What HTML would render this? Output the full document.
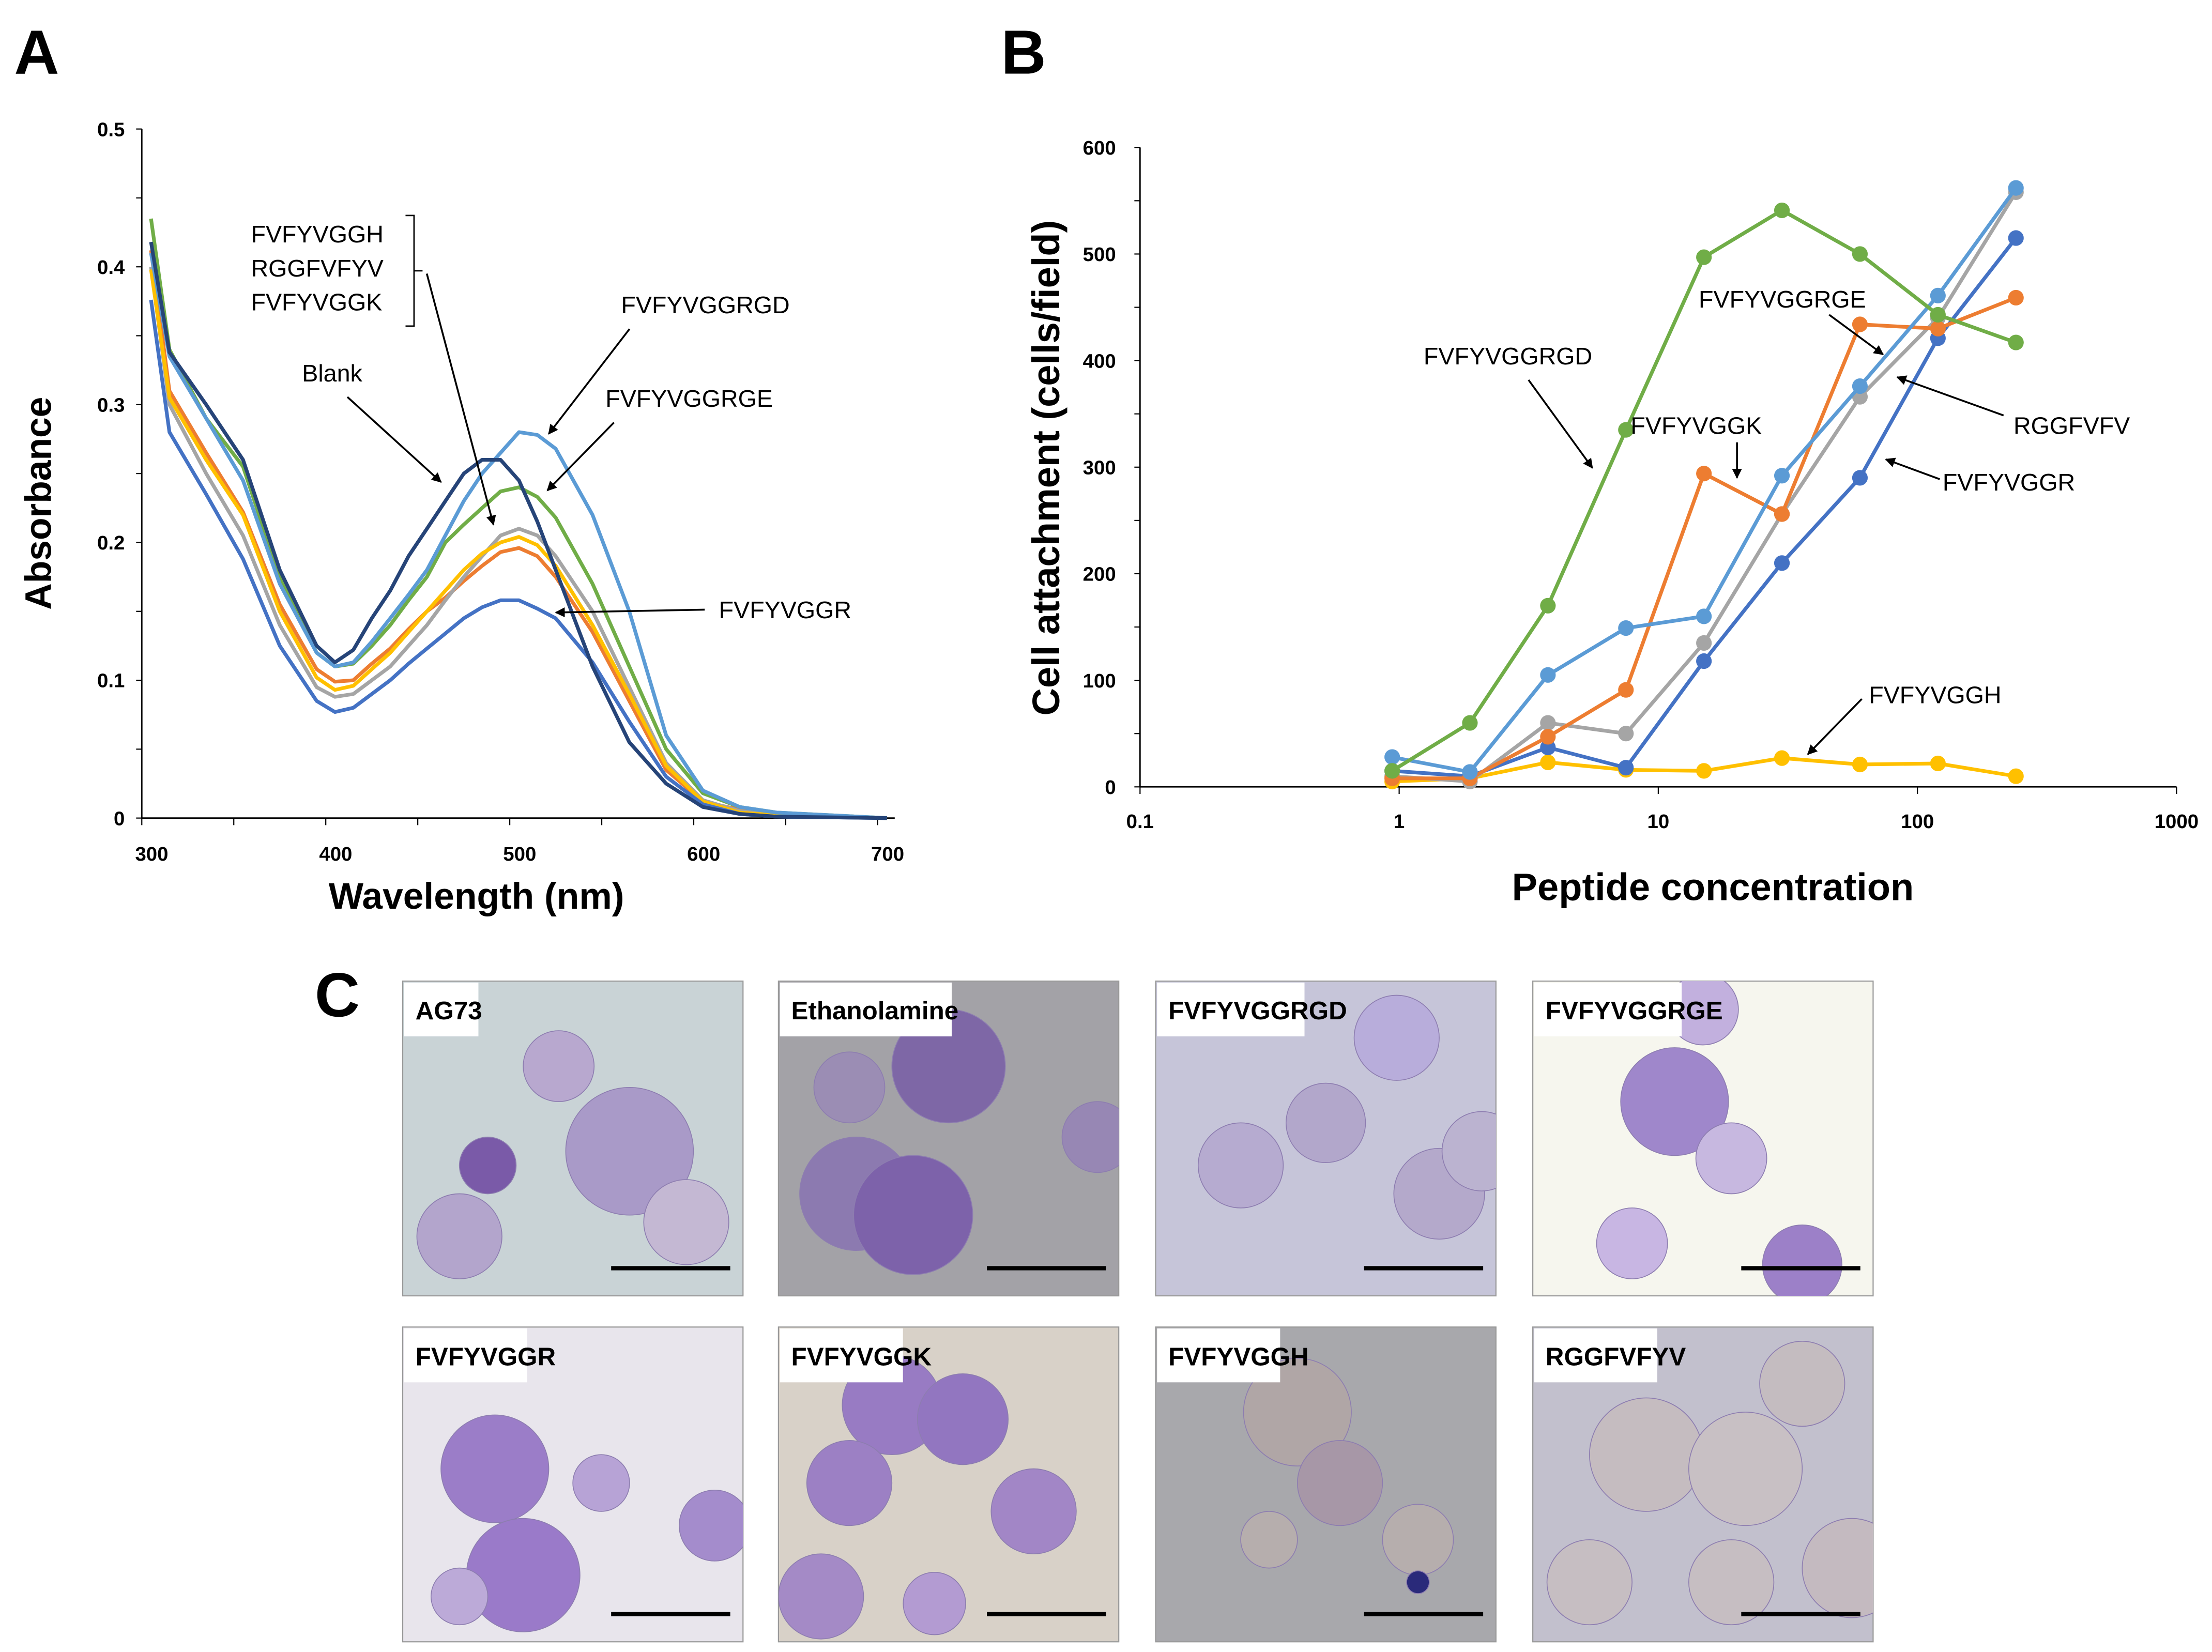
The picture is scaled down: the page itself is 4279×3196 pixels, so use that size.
<!DOCTYPE html>
<html><head><meta charset="utf-8"><style>
html,body{margin:0;padding:0;background:#fff}
svg{display:block}
text{font-family:"Liberation Sans",Arial,sans-serif}
</style></head><body>
<svg id="fig" width="4279" height="3196" viewBox="0 0 1560 1165.2" preserveAspectRatio="none" xmlns="http://www.w3.org/2000/svg">
<g id="pa"></g>
<g id="pb"></g>
<g id="pc"></g>
</svg>
<script>
// ---------- Panel A data ----------
const aWl = [305,315,335,355,375,395,405,415,425,435,445,455,465,475,485,495,505,515,525,545,565,585,605,625,645,705];
const aBlank = [0.418,0.338,0.300,0.260,0.180,0.125,0.113,0.122,0.145,0.165,0.190,0.210,0.230,0.250,0.260,0.260,0.245,0.215,0.180,0.110,0.055,0.025,0.008,0.003,0.001,0];
const aRGD = [0.410,0.335,0.290,0.245,0.170,0.120,0.110,0.113,0.128,0.145,0.162,0.180,0.205,0.230,0.250,0.265,0.280,0.278,0.268,0.220,0.150,0.060,0.020,0.008,0.004,0];
const aRGE = [0.435,0.340,0.290,0.255,0.175,0.120,0.110,0.112,0.125,0.140,0.158,0.175,0.200,0.213,0.225,0.237,0.240,0.233,0.218,0.170,0.110,0.050,0.018,0.008,0.004,0];
const aGray = [0.400,0.300,0.250,0.205,0.140,0.095,0.088,0.090,0.100,0.110,0.125,0.140,0.158,0.175,0.190,0.205,0.210,0.205,0.190,0.150,0.095,0.040,0.013,0.005,0.002,0];
const aYellow = [0.398,0.305,0.260,0.220,0.150,0.102,0.093,0.096,0.108,0.120,0.135,0.150,0.165,0.180,0.192,0.200,0.204,0.198,0.183,0.140,0.090,0.038,0.012,0.004,0.002,0];
const aOrange = [0.412,0.310,0.265,0.222,0.155,0.108,0.099,0.100,0.112,0.123,0.137,0.150,0.160,0.172,0.183,0.193,0.196,0.190,0.175,0.135,0.085,0.035,0.012,0.006,0.003,0];
const aR = [0.376,0.280,0.235,0.188,0.125,0.085,0.077,0.080,0.090,0.100,0.112,0.123,0.134,0.145,0.153,0.158,0.158,0.152,0.145,0.113,0.070,0.030,0.010,0.003,0.001,0];
const aYTicks = ["0","0.1","0.2","0.3","0.4","0.5"];
const aXTicks = ["300","400","500","600","700"];

// ---------- Panel B data ----------
const bConc = [0.94,1.875,3.75,7.5,15,30,60,120,240];
const bRGD = [15,60,170,335,497,541,500,443,417];
const bRGE = [28,14,105,149,160,292,376,461,562];
const bK = [8,8,47,91,294,256,434,430,459];
const bRGG = [10,5,60,50,135,256,366,440,558];
const bR = [15,10,37,18,118,210,290,421,515];
const bH = [5,8,23,16,15,27,21,22,10];
const bYTicks = ["0","100","200","300","400","500","600"];
const bXTicks = ["0.1","1","10","100","1000"];

const NS="http://www.w3.org/2000/svg";
function mk(parent,tag,attrs,txt){const e=document.createElementNS(NS,tag);for(const k in attrs)e.setAttribute(k,attrs[k]);if(txt!==undefined)e.textContent=txt;parent.appendChild(e);return e;}

// arrow marker
const defs=mk(document.getElementById('fig'),'defs',{});
const mkr=mk(defs,'marker',{id:'ah',viewBox:'0 0 10 10',refX:'9',refY:'5',markerWidth:'7',markerHeight:'7',orient:'auto-start-reverse',markerUnits:'userSpaceOnUse'});
mk(mkr,'path',{d:'M0,0 L10,5 L0,10 z',fill:'#000'});

// ----- Panel A -----
const pa=document.getElementById('pa');
const ax=v=>100+(v-300)*(619-100)/400;
const ay=v=>577-v*(577-91)/0.5;
let t;
t=mk(pa,'text',{x:10,y:52,'font-size':44,'font-weight':'bold'},'A');

let l=mk(pa,'line',{x1:100,y1:91,x2:100,y2:577,stroke:'#000','stroke-width':1});

l=mk(pa,'line',{x1:100,y1:577,x2:631,y2:577,stroke:'#000','stroke-width':1});

for(let i=0;i<=10;i++){mk(pa,'line',{x1:96,x2:100,y1:ay(i*0.05),y2:ay(i*0.05),stroke:'#000','stroke-width':0.8});}
aYTicks.forEach(s=>{const e=mk(pa,'text',{x:88,y:ay(parseFloat(s))+5,'font-size':14,'font-weight':'bold','text-anchor':'end'},s);
});
for(let w=300;w<=700;w+=50){mk(pa,'line',{x1:ax(w),x2:ax(w),y1:577,y2:582,stroke:'#000','stroke-width':0.8});}
aXTicks.forEach(s=>{const e=mk(pa,'text',{x:ax(parseFloat(s))+7,y:607,'font-size':14,'font-weight':'bold','text-anchor':'middle'},s);
});
t=mk(pa,'text',{x:336,y:641,'font-size':26,'font-weight':'bold','text-anchor':'middle'},'Wavelength (nm)');

t=mk(pa,'text',{x:0,y:0,'font-size':26,'font-weight':'bold','text-anchor':'middle',transform:'translate(36,355) rotate(-90)'},'Absorbance');

const aSeries=[[aOrange,'#ed7d31','orange'],[aGray,'#a5a5a5','gray'],[aYellow,'#ffc000','yellow'],[aR,'#4472c4','fvfyvggr'],[aRGE,'#70ad47','fvfyvggrge'],[aRGD,'#5b9bd5','fvfyvggrgd'],[aBlank,'#264478','blank']];
aSeries.forEach(([d,c,n])=>{const pts=aWl.map((w,i)=>ax(w).toFixed(1)+','+ay(d[i]).toFixed(1)).join(' ');
const p=mk(pa,'polyline',{points:pts,fill:'none',stroke:c,'stroke-width':2.6,'stroke-linejoin':'round'});
});
function lab(g,x,y,s,name,sz){const e=mk(g,'text',{x:x,y:y,'font-size':sz||17},s);return e;}
function arr(g,x1,y1,x2,y2,name){const e=mk(g,'line',{x1,y1,x2,y2,stroke:'#000','stroke-width':1.3,'marker-end':'url(#ah)'});}
lab(pa,177,171,'FVFYVGGH','a-label-fvfyvggh');
lab(pa,177,195,'RGGFVFYV','a-label-rggfvfyv');
lab(pa,177,219,'FVFYVGGK','a-label-fvfyvggk');
mk(pa,'path',{d:'M286,152 L292,152 L292,230 L286,230 M292,191 L298,191',fill:'none',stroke:'#000','stroke-width':1});
arr(pa,301,193,348,370,'a-arrow-group');
lab(pa,213,269,'Blank','a-label-blank');
arr(pa,245,280,311,340,'a-arrow-blank');
lab(pa,438,221,'FVFYVGGRGD','a-label-fvfyvggrgd');
arr(pa,444,232,387,306,'a-arrow-rgd');
lab(pa,427,287,'FVFYVGGRGE','a-label-fvfyvggrge');
arr(pa,433,298,386,346,'a-arrow-rge');
lab(pa,507,436,'FVFYVGGR','a-label-fvfyvggr');
arr(pa,497,430,392,432,'a-arrow-r');

// ----- Panel B -----
const pb=document.getElementById('pb');
const bx=v=>804+(Math.log10(v)+1)*(1535-804)/4;
const by=v=>555-v*(555-104)/600;
t=mk(pb,'text',{x:706,y:52,'font-size':44,'font-weight':'bold'},'B');

l=mk(pb,'line',{x1:804,y1:104,x2:804,y2:555,stroke:'#000','stroke-width':1});

l=mk(pb,'line',{x1:804,y1:555,x2:1535,y2:555,stroke:'#000','stroke-width':1});

for(let v=0;v<=600;v+=50){mk(pb,'line',{x1:800,x2:804,y1:by(v),y2:by(v),stroke:'#000','stroke-width':0.8});}
bYTicks.forEach(s=>{const e=mk(pb,'text',{x:787,y:by(parseFloat(s))+5,'font-size':14,'font-weight':'bold','text-anchor':'end'},s);
});
bXTicks.forEach(s=>{const v=parseFloat(s);mk(pb,'line',{x1:bx(v),x2:bx(v),y1:555,y2:560,stroke:'#000','stroke-width':0.8});
const e=mk(pb,'text',{x:bx(v),y:584,'font-size':14,'font-weight':'bold','text-anchor':'middle'},s);
});
t=mk(pb,'text',{x:1208,y:635,'font-size':27,'font-weight':'bold','text-anchor':'middle'},'Peptide concentration');

t=mk(pb,'text',{x:0,y:0,'font-size':27,'font-weight':'bold','text-anchor':'middle',transform:'translate(747,330) rotate(-90)'},'Cell attachment (cells/field)');

const bSeries=[[bH,'#ffc000','fvfyvggh'],[bR,'#4472c4','fvfyvggr'],[bRGG,'#a5a5a5','rggfvfyv'],[bK,'#ed7d31','fvfyvggk'],[bRGE,'#5b9bd5','fvfyvggrge'],[bRGD,'#70ad47','fvfyvggrgd']];
bSeries.forEach(([d,c,n])=>{const pts=bConc.map((x,i)=>bx(x).toFixed(1)+','+by(d[i]).toFixed(1)).join(' ');
const p=mk(pb,'polyline',{points:pts,fill:'none',stroke:c,'stroke-width':2.6,'stroke-linejoin':'round'});

bConc.forEach((x,i)=>{const ci=mk(pb,'circle',{cx:bx(x),cy:by(d[i]),r:5.5,fill:c});
});});
lab(pb,1004,257,'FVFYVGGRGD','b-label-fvfyvggrgd');
arr(pb,1078,268,1123,330,'b-arrow-rgd');
lab(pb,1198,217,'FVFYVGGRGE','b-label-fvfyvggrge');
arr(pb,1290,222,1328,250,'b-arrow-rge');
lab(pb,1150,306,'FVFYVGGK','b-label-fvfyvggk');
arr(pb,1225,312,1225,337,'b-arrow-k');
lab(pb,1420,306,'RGGFVFV','b-label-rggfvfv');
arr(pb,1413,293,1338,266,'b-arrow-rgg');
lab(pb,1370,346,'FVFYVGGR','b-label-fvfyvggr');
arr(pb,1368,338,1330,324,'b-arrow-r');
lab(pb,1318,496,'FVFYVGGH','b-label-fvfyvggh');
arr(pb,1313,493,1275,532,'b-arrow-h');

// ----- Panel C -----
const pc=document.getElementById('pc');
t=mk(pc,'text',{x:222,y:717,'font-size':44,'font-weight':'bold'},'C');

const cols=[284,549,815,1081], rows=[692,936], W=240, H=222;
const photos=[
 ['AG73','#c9d3d6',[[110,60,25,'#b8a8cf'],[160,120,45,'#a99ac8'],[40,180,30,'#b3a5cc'],[200,170,30,'#c4b8d3'],[60,130,20,'#7a5aa8']]],
 ['Ethanolamine','#a3a2a7',[[120,60,40,'#7e67a6'],[55,150,40,'#8c7ab0'],[95,165,42,'#7d62aa'],[225,110,25,'#9787b4'],[50,75,25,'#9b8db4']]],
 ['FVFYVGGRGD','#c6c5d9',[[60,130,30,'#b6abd0'],[120,100,28,'#b2a7cb'],[200,150,32,'#b4a9cb'],[170,40,30,'#b8addb'],[230,120,28,'#bbb3d0']]],
 ['FVFYVGGRGE','#f6f6ee',[[100,85,38,'#9f87cb'],[140,125,25,'#c7b8e0'],[190,200,28,'#9c80c8'],[70,185,25,'#c8b6e3'],[120,20,25,'#c2b0de']]],
 ['FVFYVGGR','#e8e5ec',[[65,100,38,'#9b7dc8'],[85,175,40,'#9a7ac9'],[140,110,20,'#b7a3d6'],[220,140,25,'#a48ccc'],[40,190,20,'#bcaad8']]],
 ['FVFYVGGK','#d8d1c8',[[80,55,35,'#987bc3'],[130,65,32,'#9276c0'],[50,110,30,'#9c80c4'],[180,130,30,'#a286c6'],[30,190,30,'#a48ac6'],[110,195,22,'#b39bd2']]],
 ['FVFYVGGH','#a8a8ac',[[100,60,38,'#b0a6a6'],[130,110,30,'#a797a7'],[80,150,20,'#b6aead'],[185,150,25,'#b6aead'],[185,180,8,'#2a2a7a']]],
 ['RGGFVFYV','#c2c0cd',[[80,90,40,'#c5bcc0'],[150,100,40,'#c8c0c4'],[40,180,30,'#c6bec2'],[140,180,30,'#c6bec2'],[225,170,35,'#c4bac0'],[190,40,30,'#c4bcc0']]]
];
photos.forEach((p,i)=>{const x=cols[i%4], y=rows[Math.floor(i/4)];
const g=mk(pc,'g',{});
const cp=mk(defs,'clipPath',{id:'cp'+i});mk(cp,'rect',{x:x,y:y,width:W,height:H});
mk(g,'rect',{x:x,y:y,width:W,height:H,fill:p[1],stroke:'#999','stroke-width':0.8});
const gc=mk(g,'g',{'clip-path':'url(#cp'+i+')'});
p[2].forEach(c=>mk(gc,'circle',{cx:x+c[0],cy:y+c[1],r:c[2],fill:c[3],stroke:'#8d7db0','stroke-width':0.6}));
const lw=p[0].length*8.6+18;
mk(g,'rect',{x:x+1,y:y+1,width:lw,height:38,fill:'#fff'});
const tl=mk(g,'text',{x:x+9,y:y+27,'font-size':18,'font-weight':'bold'},p[0]);

const sb=mk(g,'rect',{x:x+147,y:y+201,width:84,height:3,fill:'#000'});

});
</script>
</body></html>
